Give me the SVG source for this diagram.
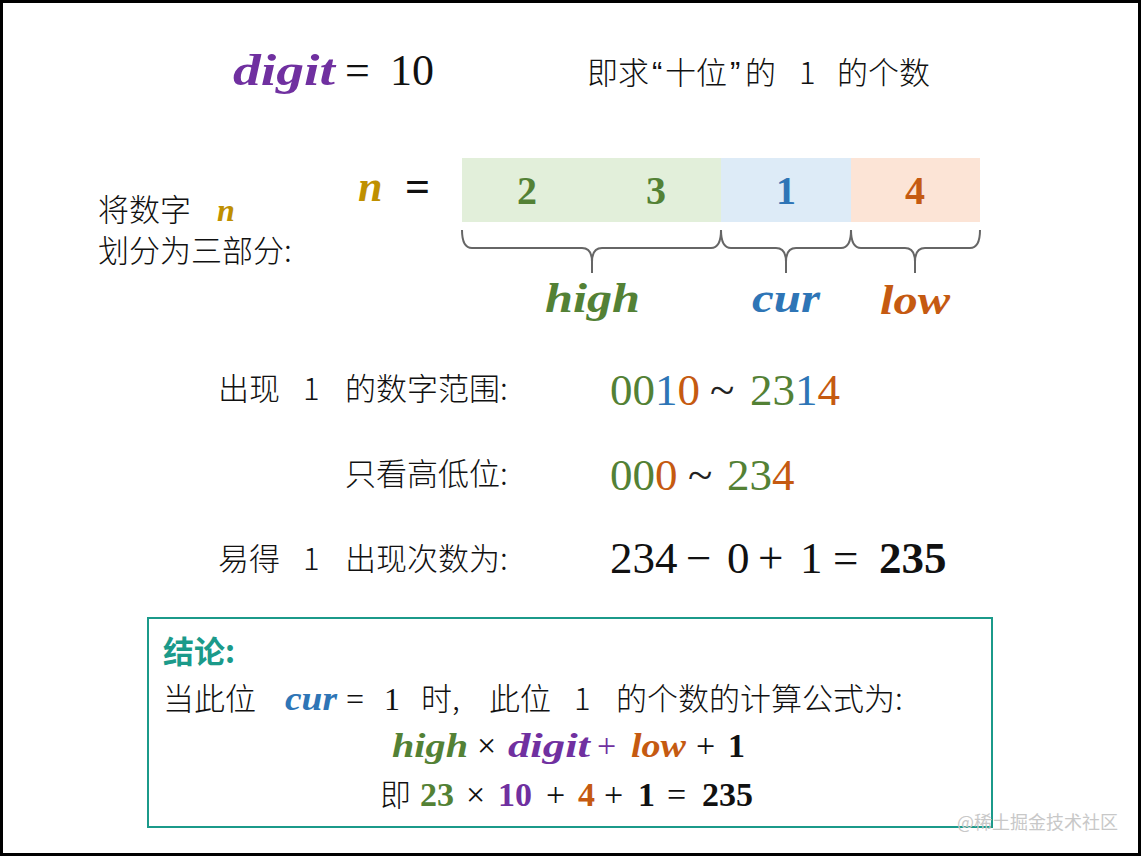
<svg xmlns="http://www.w3.org/2000/svg" width="1141" height="856" viewBox="0 0 1141 856">
<style>
.cn{font-family:"Noto Sans CJK SC","Noto Sans",sans-serif;font-size:31px;font-weight:300;fill:#111}
.q{font-family:"Liberation Sans",sans-serif;font-size:31px;fill:#111}
.m{font-family:"Liberation Serif","DejaVu Serif",serif;fill:#111}
.bi{font-family:"Liberation Serif","DejaVu Serif",serif;font-weight:bold;font-style:italic}
.bd{font-weight:bold}
.g{fill:#538135}.b{fill:#2E75B6}.o{fill:#C55A11}.p{fill:#7030A0}.y{fill:#BF9000}
.br{fill:none;stroke:#666;stroke-width:2}
</style>
<rect x="1.5" y="1.5" width="1138" height="853" fill="#fff" stroke="#000" stroke-width="3"/>
<g id="title">
<text x="233" y="85" font-size="44" class="bi p" textLength="102" lengthAdjust="spacingAndGlyphs">digit</text>
<text x="345" y="85" font-size="44" class="m">=</text>
<text x="390" y="85" font-size="44" class="m">10</text>
<text x="587" y="84" class="cn">即求</text>
<text x="652" y="84" class="q">“</text>
<text x="665" y="84" class="cn">十位</text>
<text x="730" y="84" class="q">”</text>
<text x="745" y="84" class="cn">的</text>
<text x="799" y="84" class="cn">1</text>
<text x="837" y="84" class="cn">的个数</text>
</g>
<g id="split-label">
<text x="98" y="221" class="cn">将数字</text>
<text x="217" y="221" font-size="32" class="bi y">n</text>
<text x="98" y="262" class="cn">划分为三部分:</text>
</g>
<g id="n-eq">
<text x="358" y="201" font-size="44" class="bi y">n</text>
<text x="405" y="201" font-size="44" class="m bd">=</text>
</g>
<g id="digits">
<rect x="462" y="158" width="259" height="64" fill="#E2EFDA"/>
<rect x="721" y="158" width="130" height="64" fill="#DDEBF7"/>
<rect x="851" y="158" width="129" height="64" fill="#FCE4D6"/>
<g font-size="40" text-anchor="middle">
<text x="527" y="204" class="m bd g">2</text>
<text x="656" y="204" class="m bd g">3</text>
<text x="786" y="204" class="m bd b">1</text>
<text x="915" y="204" class="m bd o">4</text>
</g>
</g>
<g id="connectors">
<path class="br" d="M462,230 Q462,248 472,248 L582,248 Q592,248 592,262 L592,273 M592,262 Q592,248 602,248 L711,248 Q721,248 721,230"/>
<path class="br" d="M721,230 Q721,248 731,248 L776,248 Q786,248 786,262 L786,273 M786,262 Q786,248 796,248 L841,248 Q851,248 851,230"/>
<path class="br" d="M851,230 Q851,248 861,248 L905,248 Q915,248 915,262 L915,273 M915,262 Q915,248 925,248 L970,248 Q980,248 980,230"/>
</g>
<g id="labels" font-size="42">
<text x="545" y="312" class="bi g" textLength="95" lengthAdjust="spacingAndGlyphs">high</text>
<text x="752" y="312" class="bi b" textLength="68" lengthAdjust="spacingAndGlyphs">cur</text>
<text x="880" y="314" class="bi o" textLength="70" lengthAdjust="spacingAndGlyphs">low</text>
</g>
<g id="range">
<text x="218" y="400" class="cn">出现</text>
<text x="303" y="400" class="cn">1</text>
<text x="345" y="400" class="cn">的数字范围:</text>
<g font-size="45" class="m">
<text x="610" y="405"><tspan class="g">00</tspan><tspan class="b">1</tspan><tspan class="o">0</tspan></text>
<text x="710" y="405" fill="#222">~</text>
<text x="750" y="405"><tspan class="g">23</tspan><tspan class="b">1</tspan><tspan class="o">4</tspan></text>
</g>
</g>
<g id="highlow">
<text x="345" y="485" class="cn">只看高低位:</text>
<g font-size="45" class="m">
<text x="610" y="490"><tspan class="g">00</tspan><tspan class="o">0</tspan></text>
<text x="688" y="490" fill="#222">~</text>
<text x="727" y="490"><tspan class="g">23</tspan><tspan class="o">4</tspan></text>
</g>
</g>
<g id="count">
<text x="218" y="570" class="cn">易得</text>
<text x="303" y="570" class="cn">1</text>
<text x="345" y="570" class="cn">出现次数为:</text>
<g font-size="45" class="m" fill="#000">
<text x="610" y="573">234</text>
<text x="686" y="573">−</text>
<text x="727" y="573">0</text>
<text x="758" y="573">+</text>
<text x="800" y="573">1</text>
<text x="833" y="573">=</text>
<text x="879" y="573" class="bd">235</text>
</g>
</g>
<g id="conclusion">
<rect x="148" y="618" width="844" height="209" fill="none" stroke="#1B9A8A" stroke-width="2"/>
<text x="163" y="663" class="cn" style="fill:#1B9A8A;font-weight:bold">结论:</text>
<text x="163" y="710" class="cn">当此位</text>
<text x="285" y="710" font-size="34" class="bi b" textLength="52" lengthAdjust="spacingAndGlyphs">cur</text>
<text x="346" y="710" font-size="32" class="m">=</text>
<text x="384" y="710" font-size="32" class="m">1</text>
<text x="421" y="710" class="cn">时,</text>
<text x="489" y="710" class="cn">此位</text>
<text x="574" y="710" class="cn">1</text>
<text x="616" y="710" class="cn">的个数的计算公式为:</text>
<g font-size="34">
<text x="392" y="757" class="bi g" textLength="76" lengthAdjust="spacingAndGlyphs">high</text>
<text x="477" y="757" class="m">×</text>
<text x="508" y="757" class="bi p" textLength="82" lengthAdjust="spacingAndGlyphs">digit</text>
<text x="597" y="757" class="m p">+</text>
<text x="631" y="757" class="bi o" textLength="55" lengthAdjust="spacingAndGlyphs">low</text>
<text x="696" y="757" class="m">+</text>
<text x="728" y="757" class="m bd">1</text>
<text x="380" y="806" class="cn">即</text>
<text x="420" y="806" class="m bd g">23</text>
<text x="466" y="806" class="m">×</text>
<text x="498" y="806" class="m bd p">10</text>
<text x="546" y="806" class="m">+</text>
<text x="578" y="806" class="m bd o">4</text>
<text x="604" y="806" class="m">+</text>
<text x="638" y="806" class="m bd">1</text>
<text x="667" y="806" class="m">=</text>
<text x="702" y="806" class="m bd">235</text>
</g>
</g>
<text x="957" y="829" font-family="Noto Sans CJK SC,sans-serif" font-size="18" fill="#c8c8c8">@稀土掘金技术社区</text>
</svg>
